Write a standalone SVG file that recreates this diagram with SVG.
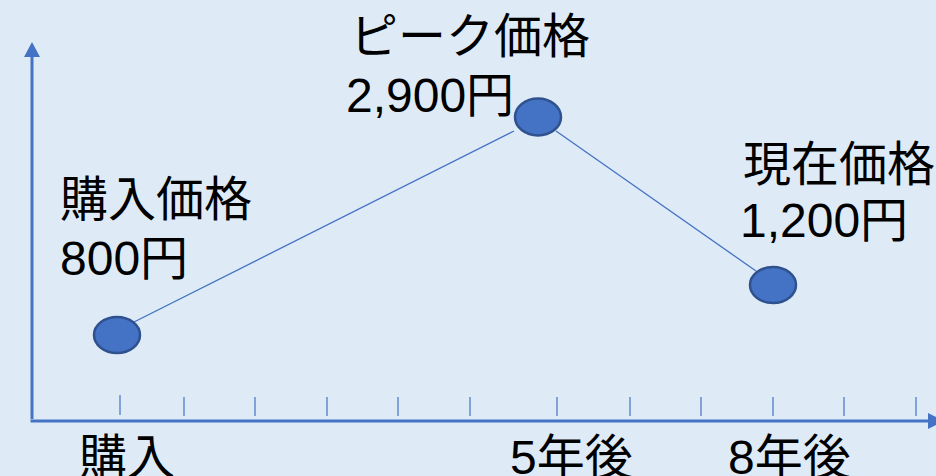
<svg xmlns="http://www.w3.org/2000/svg" width="936" height="476" viewBox="0 0 936 476">
<style>
.bg{fill:#DEEBF7}
.axis{stroke:#4472C4;stroke-width:3;fill:none}
.tick{stroke:#4472C4;stroke-width:1.2}
.arrow{fill:#4472C4}
.conn{stroke:#4472C4;stroke-width:1.3;fill:none}
.pt{fill:#4472C4;stroke:#2F528F;stroke-width:2.5}
.t{font-family:"Liberation Sans","Noto Sans CJK JP",sans-serif;font-size:48px;fill:#000}
</style>
<rect class="bg" x="0" y="0" width="936" height="476"/>
<g id="axes">
<line class="axis" x1="32" y1="419" x2="32" y2="55"/>
<polygon class="arrow" points="32,42 24,57 40,57"/>
<line class="axis" x1="30.5" y1="421" x2="929" y2="421"/>
<polygon class="arrow" points="928,413 928,429 944,421"/>
<g class="tick">
<line x1="120" y1="395" x2="120" y2="415"/>
<line x1="184" y1="397" x2="184" y2="416"/>
<line x1="255" y1="397" x2="255" y2="416"/>
<line x1="327" y1="397" x2="327" y2="416"/>
<line x1="398" y1="397" x2="398" y2="416"/>
<line x1="470" y1="397" x2="470" y2="416"/>
<line x1="557" y1="397" x2="557" y2="416"/>
<line x1="630" y1="397" x2="630" y2="416"/>
<line x1="701" y1="397" x2="701" y2="416"/>
<line x1="773" y1="397" x2="773" y2="416"/>
<line x1="844" y1="397" x2="844" y2="416"/>
<line x1="916" y1="397" x2="916" y2="416"/>
</g>
<text class="t" x="79" y="474">購入</text>
<text class="t" x="510" y="474">5年後</text>
<text class="t" x="728" y="474">8年後</text>
</g>
<g id="connectors">
<line class="conn" x1="134" y1="322" x2="514" y2="131"/>
<line class="conn" x1="556" y1="131" x2="756" y2="271"/>
</g>
<g id="node-purchase">
<ellipse class="pt" cx="117" cy="335" rx="23" ry="18"/>
<text class="t" x="60" y="216">購入価格</text>
<text class="t" x="60" y="275">800円</text>
</g>
<g id="node-peak">
<ellipse class="pt" cx="538" cy="117" rx="23" ry="18.5"/>
<text class="t" x="350" y="53">ピーク価格</text>
<text class="t" x="346" y="112">2,900円</text>
</g>
<g id="node-current">
<ellipse class="pt" cx="773" cy="285" rx="23" ry="18"/>
<text class="t" x="743" y="181">現在価格</text>
<text class="t" x="740" y="237">1,200円</text>
</g>
</svg>
